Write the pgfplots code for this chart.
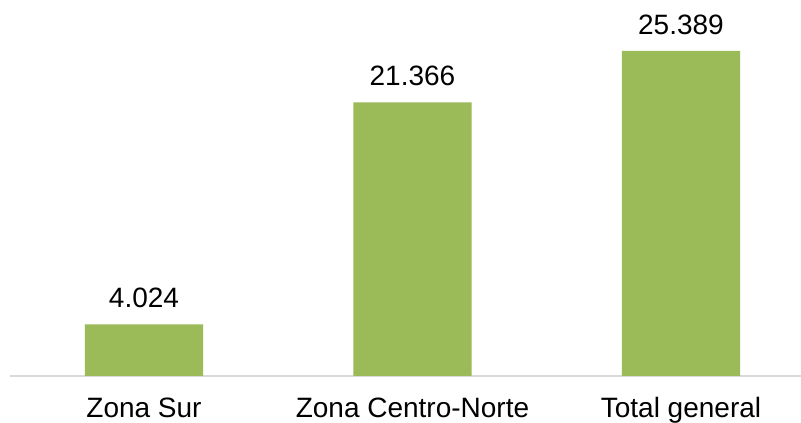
\documentclass[border=0pt]{standalone}
\usepackage{pgfplots}
\pgfplotsset{compat=1.18}
\usepackage{fontspec}
\setmainfont{Liberation Sans}
\definecolor{bargreen}{HTML}{9BBB59}
\definecolor{axisgray}{HTML}{D9D9D9}
\begin{document}
\begin{tikzpicture}
\useasboundingbox (0pt,0pt) rectangle (600.75pt,316.5pt);
\clip (0pt,0pt) rectangle (600.75pt,316.5pt);
\fill[white] (0pt,0pt) rectangle (600.75pt,316.5pt);
\begin{axis}[
    at={(7.5pt,34.5pt)}, anchor=south west,
    scale only axis,
    width=593.25pt, height=282pt,
    ymin=0, ymax=29373,
    xmin=-0.499, xmax=2.447,
    ybar, bar width=0.44,
    axis x line=bottom, axis y line=none,
    x axis line style={-, draw=axisgray, line width=1.5pt},
    xtick={0,1,2},
    xticklabels={Zona Sur, Zona Centro-Norte, Total general},
    major tick length=0pt,
    xticklabel style={anchor=base, yshift=-31.5pt, font=\fontsize{21}{25}\selectfont},
    nodes near coords={\pgfmathprintnumber[1000 sep={.}, assume math mode=true]{\pgfplotspointmeta}},
    nodes near coords style={anchor=base, yshift=12.4pt, font=\fontsize{21}{25}\selectfont, text=black},
    clip=false,
]
\addplot[fill=bargreen, draw=none] coordinates {
    (0, 4024)
    (1, 21366)
    (2, 25389)
};
\end{axis}
\end{tikzpicture}
\end{document}
